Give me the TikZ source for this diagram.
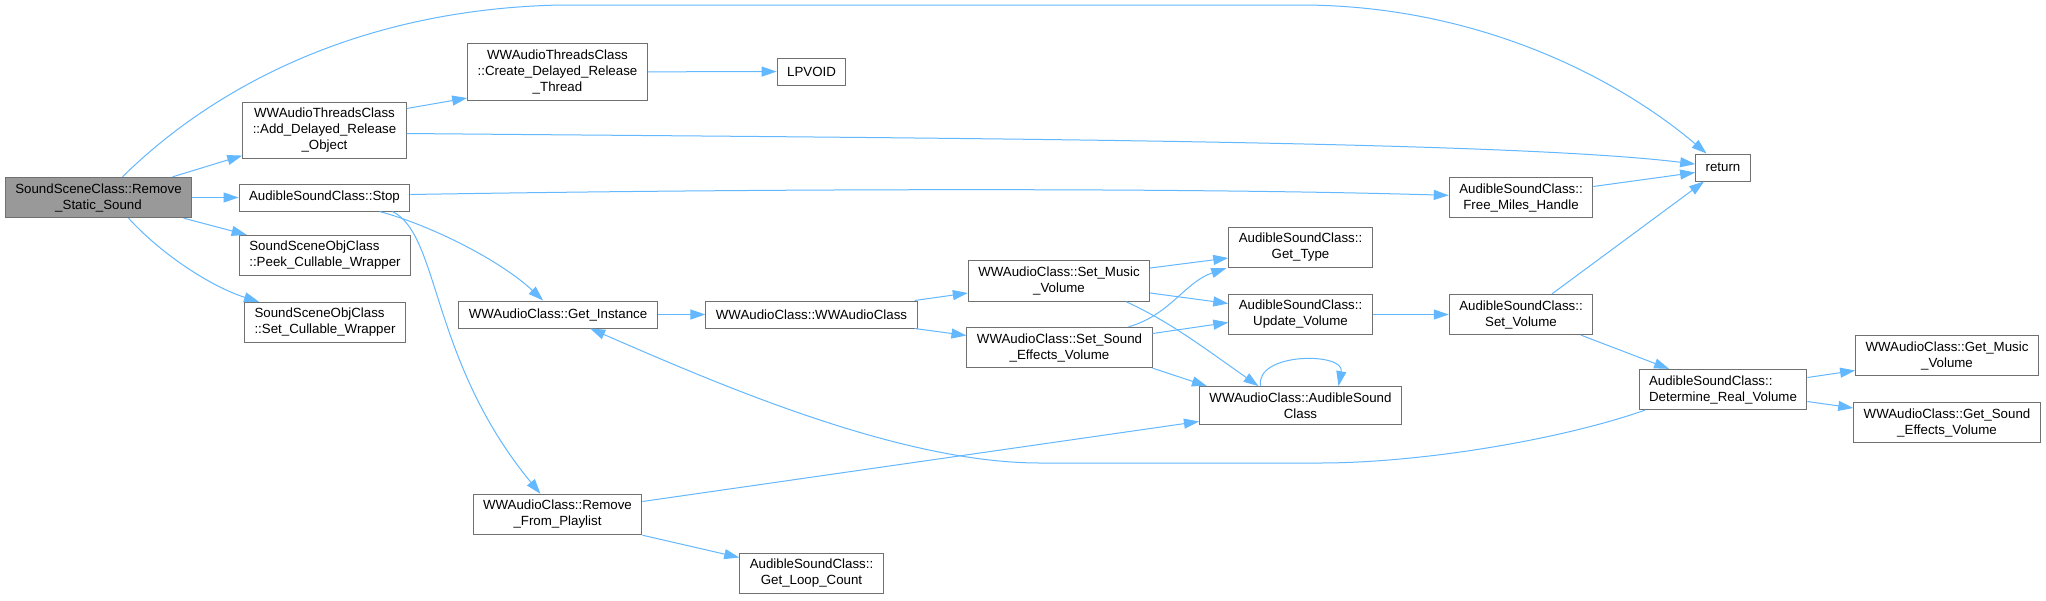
\documentclass[tikz,border=0pt]{standalone}
\usepackage{fontspec}
\setmainfont{Liberation Sans}
\usetikzlibrary{arrows.meta,positioning,calc}
\definecolor{callblue}{HTML}{63B8FF}
\definecolor{boxline}{HTML}{707070}
\definecolor{rootfill}{HTML}{999999}
\tikzset{
  fnbox/.style={draw=boxline, line width=1pt, fill=white, align=center,
    inner xsep=10pt, inner ysep=6pt, minimum height=27pt,
    font=\fontsize{13.3}{16}\selectfont},
  rootbox/.style={fnbox, fill=rootfill},
  call/.style={-{Triangle[length=15pt,width=10pt]}, callblue, line width=1pt},
}

\begin{document}
\begin{tikzpicture}[x=1pt, y=-1pt]
  \useasboundingbox (0,0) rectangle (2046,600);
  \fill[white] (0,0) rectangle (2046,600);

  % nodes, one column per call level
  \node[rootbox] (root) at (98.5,197.5) {SoundSceneClass::Remove\\\_Static\_Sound};
  \node[fnbox] (addrel) at (324.5,130.5) {WWAudioThreadsClass\\::Add\_Delayed\_Release\\\_Object};
  \node[fnbox] (stop) at (324.5,197.5) {AudibleSoundClass::Stop};
  \node[fnbox, align=left] (peekcull) at (325,255.5) {SoundSceneObjClass\\::Peek\_Cullable\_Wrapper};
  \node[fnbox, align=left] (setcull) at (325,322.5) {SoundSceneObjClass\\::Set\_Cullable\_Wrapper};
  \node[fnbox] (createrel) at (557.5,72) {WWAudioThreadsClass\\::Create\_Delayed\_Release\\\_Thread};
  \node[fnbox] (getinst) at (558,314.5) {WWAudioClass::Get\_Instance};
  \node[fnbox] (rmplay) at (557.5,514.5) {WWAudioClass::Remove\\\_From\_Playlist};
  \node[fnbox] (lpvoid) at (811.5,71.5) {LPVOID};
  \node[fnbox] (wwaudio) at (811.5,314.5) {WWAudioClass::WWAudioClass};
  \node[fnbox] (loopcnt) at (811.5,573.5) {AudibleSoundClass::\\Get\_Loop\_Count};
  \node[fnbox] (setmusic) at (1059,281) {WWAudioClass::Set\_Music\\\_Volume};
  \node[fnbox] (setsfx) at (1059.5,347.5) {WWAudioClass::Set\_Sound\\\_Effects\_Volume};
  \node[fnbox] (gettype) at (1300.5,247.5) {AudibleSoundClass::\\Get\_Type};
  \node[fnbox] (updvol) at (1300.5,314.5) {AudibleSoundClass::\\Update\_Volume};
  \node[fnbox] (audsnd) at (1300.5,405.5) {WWAudioClass::AudibleSound\\Class};
  \node[fnbox] (freemiles) at (1521,197.5) {AudibleSoundClass::\\Free\_Miles\_Handle};
  \node[fnbox] (setvol) at (1521,314.5) {AudibleSoundClass::\\Set\_Volume};
  \node[fnbox] (ret) at (1723,167.5) {return};
  \node[fnbox, align=left] (realvol) at (1723,389.5) {AudibleSoundClass::\\Determine\_Real\_Volume};
  \node[fnbox] (getmusvol) at (1947,355.5) {WWAudioClass::Get\_Music\\\_Volume};
  \node[fnbox] (getsfxvol) at (1947,422.5) {WWAudioClass::Get\_Sound\\\_Effects\_Volume};

  % calls from the root
  \draw[call] ([xshift=24pt]root.north) .. controls (190,110) and (330,10) .. (560,5)
    -- (1300,5) .. controls (1480,5) and (1620,80) .. (ret);
  \draw[call] ([xshift=74pt]root.north) -- (addrel);
  \draw[call] (root) -- (stop);
  \draw[call] ([xshift=85pt]root.south) -- (peekcull);
  \draw[call] ([xshift=30pt]root.south) .. controls (165,258) and (215,288) .. (setcull);

  % second level
  \draw[call] ([yshift=22pt]addrel.east) -- ([yshift=-26pt]createrel.west);
  \draw[call] ([yshift=-3pt]addrel.east) .. controls (900,138) and (1500,140) .. (ret);
  \draw[call] (createrel) -- (lpvoid);
  \draw[call] ([yshift=3pt]stop.east) .. controls (800,188) and (1200,188) .. (freemiles);
  \draw[call] ([xshift=55pt]stop.south) .. controls (430,225) and (500,260) .. (getinst);
  \draw[call] ([xshift=68pt]stop.south) .. controls (440,235) and (430,360) .. (rmplay);

  % WWAudioClass chain
  \draw[call] (getinst) -- (wwaudio);
  \draw[call] ([xshift=-3pt]wwaudio.north east) -- ([yshift=-12pt]setmusic.west);
  \draw[call] ([xshift=-3pt]wwaudio.south east) -- ([yshift=12pt]setsfx.west);
  \draw[call] ([yshift=13pt]setmusic.east) -- ([yshift=-10.5pt]gettype.west);
  \draw[call] ([yshift=-12pt]setmusic.east) -- ([yshift=11pt]updvol.west);
  \draw[call] ([xshift=67pt]setmusic.south) .. controls (1170,322) and (1200,345) .. ([xshift=-42pt]audsnd.north);
  \draw[call] ([xshift=69pt]setsfx.north) .. controls (1170,315) and (1185,282) .. ([xshift=-2pt]gettype.south west);
  \draw[call] ([yshift=14pt]setsfx.east) -- ([yshift=-8pt]updvol.west);
  \draw[call] (setsfx.south east) -- ([xshift=8pt]audsnd.north west);
  \draw[call] ([xshift=-40pt]audsnd.north) .. controls (1255,352) and (1345,352) .. ([xshift=38pt]audsnd.north);
  \draw[call] ([yshift=13pt]rmplay.east) -- ([yshift=-16pt]audsnd.west);
  \draw[call] (rmplay.south east) -- ([yshift=16pt]loopcnt.west);

  % volume handling
  \draw[call] (updvol) -- (setvol);
  \draw[call] ([yshift=11pt]freemiles.east) -- ([yshift=-5pt]ret.west);
  \draw[call] ([xshift=31pt]setvol.north) -- (ret);
  \draw[call] ([xshift=60pt]setvol.south) -- (realvol);
  \draw[call] ([yshift=12pt]realvol.east) -- ([yshift=-15pt]getmusvol.west);
  \draw[call] ([yshift=-12pt]realvol.east) -- ([yshift=14.5pt]getsfxvol.west);
  \draw[call] ([xshift=-78pt]realvol.south) .. controls (1560,440) and (1420,463) .. (1320,463)
    -- (1040,463) .. controls (900,463) and (720,385) .. (getinst);
\end{tikzpicture}
\end{document}
